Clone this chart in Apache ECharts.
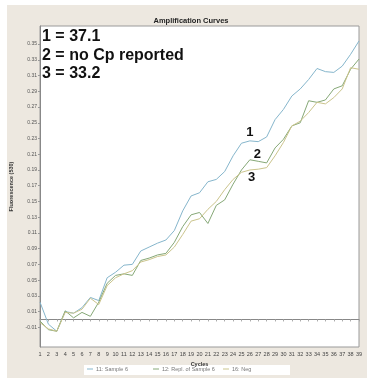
<!DOCTYPE html>
<html>
<head>
<meta charset="utf-8">
<script src="https://cdn.jsdelivr.net/npm/echarts@6/dist/echarts.min.js"></script>
<style>
html,body{margin:0;padding:0;background:#ffffff;}
#chart{width:367px;height:378px;}
</style>
</head>
<body>
<div id="chart"></div>
<script>
const cycles = [1,2,3,4,5,6,7,8,9,10,11,12,13,14,15,16,17,18,19,20,21,22,23,24,25,26,27,28,29,30,31,32,33,34,35,36,37,38,39];
const sample6 = [0.022,-0.006,-0.015,0.010,0.008,0.015,0.028,0.024,0.053,0.060,0.069,0.070,0.087,0.092,0.097,0.101,0.113,0.138,0.157,0.161,0.175,0.178,0.188,0.208,0.224,0.227,0.226,0.232,0.254,0.267,0.284,0.293,0.305,0.319,0.315,0.314,0.322,0.337,0.354];
const replSample6 = [-0.002,-0.013,-0.015,0.011,0.002,0.009,0.004,0.022,0.046,0.056,0.058,0.056,0.075,0.078,0.082,0.084,0.098,0.118,0.133,0.136,0.122,0.145,0.152,0.172,0.190,0.203,0.201,0.199,0.218,0.229,0.246,0.250,0.278,0.276,0.279,0.293,0.297,0.318,0.331];
const neg = [-0.004,-0.012,-0.015,0.009,0.008,0.013,0.027,0.019,0.043,0.053,0.058,0.062,0.073,0.076,0.080,0.082,0.092,0.108,0.125,0.128,0.140,0.150,0.165,0.178,0.187,0.190,0.191,0.193,0.208,0.225,0.246,0.252,0.263,0.276,0.274,0.282,0.293,0.320,0.318];
const seriesNames = ['11: Sample 6','12: Repl. of Sample 6','16: Neg'];
const yTicks = [-0.01,0.01,0.03,0.05,0.07,0.09,0.11,0.13,0.15,0.17,0.19,0.21,0.23,0.25,0.27,0.29,0.31,0.33,0.35];
const curveLabels = [
  {text:'1', cycle:26.0, value:0.238},
  {text:'2', cycle:26.9, value:0.210},
  {text:'3', cycle:26.2, value:0.181}
];
const annotationLines = ['1 = 37.1','2 = no Cp reported','3 = 33.2'];

const colors = ['#86b6cc','#86a877','#cbc48c'];
const allData = [sample6, replSample6, neg];

const chart = echarts.init(document.getElementById('chart'), null, {renderer:'canvas'});

const series = allData.map((arr, i) => ({
  name: seriesNames[i],
  type: 'line',
  data: cycles.map((c, k) => [c, arr[k]]),
  showSymbol: false,
  symbol: 'none',
  lineStyle: {width: 1, color: colors[i]},
  itemStyle: {color: colors[i]},
  z: 3,
  markPoint: {
    symbol: 'circle', symbolSize: 0,
    label: {show: true, formatter: curveLabels[i].text, fontSize: 13, fontWeight: 'bold', color: '#111', fontFamily: 'Liberation Sans'},
    data: [{coord: [curveLabels[i].cycle, curveLabels[i].value]}]
  }
}));

const legendLefts = [85, 151, 221];
const legends = seriesNames.map((n, i) => ({
  data: [n],
  left: legendLefts[i],
  top: 366,
  padding: [0, 2],
  icon: 'rect',
  itemWidth: 6,
  itemHeight: 1,
  itemGap: 2,
  textStyle: {fontSize: 5.5, color: '#777', fontFamily: 'Liberation Sans', padding: [0,0,0,-2]},
  selectedMode: false
}));

const option = {
  animation: false,
  backgroundColor: 'transparent',
  title: {
    text: 'Amplification Curves',
    left: 186, textAlign: 'center', top: 12,
    textStyle: {fontSize: 7.5, fontWeight: 'bold', color: '#222', fontFamily: 'Liberation Sans'}
  },
  legend: legends,
  graphic: [
    {type:'rect', z:-10, silent:true, shape:{x:7,y:5,width:360,height:373}, style:{fill:'#ede8e0'}},
    {type:'rect', z:-9, silent:true, shape:{x:84,y:365,width:206,height:10}, style:{fill:'#ffffff'}},
    {type:'text', left:42, top:29, z:10, style:{text:annotationLines[0], fontSize:16, fontWeight:'bold', fill:'#111', fontFamily:'Liberation Sans'}},
    {type:'text', left:42, top:48, z:10, style:{text:annotationLines[1], fontSize:16, fontWeight:'bold', fill:'#111', fontFamily:'Liberation Sans'}},
    {type:'text', left:42, top:66, z:10, style:{text:annotationLines[2], fontSize:16, fontWeight:'bold', fill:'#111', fontFamily:'Liberation Sans'}}
  ],
  grid: {
    left: 40, right: 8, top: 26, bottom: 31,
    show: true, backgroundColor: '#ffffff', borderColor: '#9a9a9a', borderWidth: 1,
    containLabel: false
  },
  xAxis: {
    type: 'value', min: 1, max: 39, interval: 1,
    name: 'Cycles', nameLocation: 'middle', nameGap: 10,
    nameTextStyle: {fontSize: 5.5, fontWeight: 'bold', color: '#333', fontFamily: 'Liberation Sans'},
    axisLine: {show: true, lineStyle: {color: '#888'}},
    axisTick: {show: true, length: 2, lineStyle: {color: '#aaa'}},
    axisLabel: {fontSize: 5.5, color: '#444', margin: 4, fontFamily: 'Liberation Sans'},
    splitLine: {show: false}
  },
  yAxis: {
    type: 'value', min: -0.035, max: 0.373,
    name: 'Fluorescence (530)', nameLocation: 'middle', nameGap: 22, nameRotate: 90,
    nameTextStyle: {fontSize: 5.5, fontWeight: 'bold', color: '#333', fontFamily: 'Liberation Sans'},
    axisLine: {show: true, lineStyle: {color: '#888'}},
    axisTick: {show: true, length: 2, customValues: yTicks, lineStyle: {color: '#999'}},
    axisLabel: {fontSize: 5, color: '#555', margin: 3, customValues: yTicks, fontFamily: 'Liberation Sans',
      formatter: v => v.toFixed(2)},
    splitLine: {show: false}
  },
  series: series
};
chart.setOption(option);
</script>
</body>
</html>
